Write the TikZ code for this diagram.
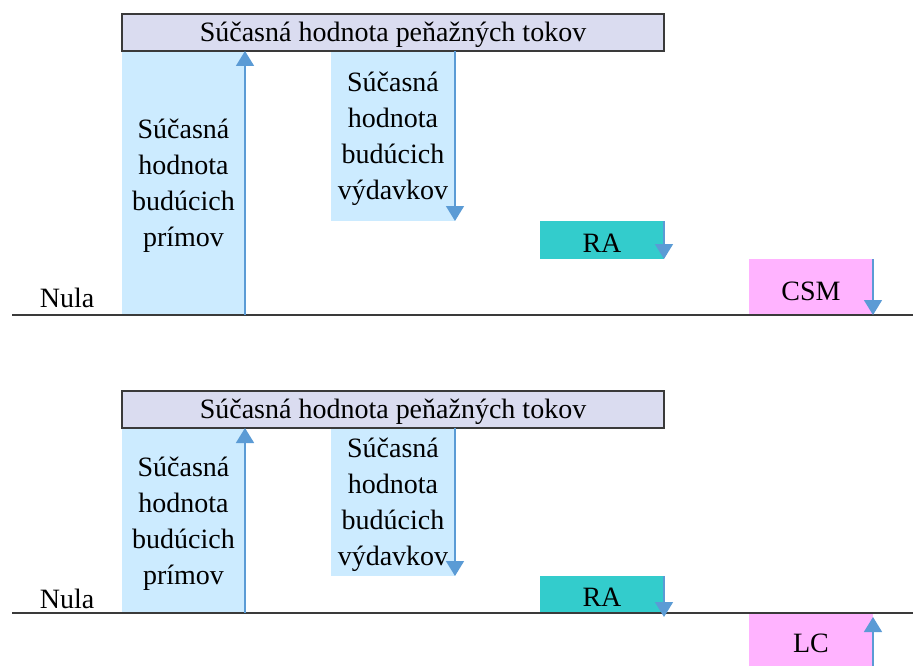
\documentclass[tikz,border=0pt]{standalone}
\usepackage{fontspec}
\setmainfont{Liberation Serif}
\usetikzlibrary{arrows.meta}
\definecolor{boxfill}{HTML}{DADCF0}
\definecolor{lblue}{HTML}{CCEBFF}
\definecolor{tealfill}{HTML}{33CCCC}
\definecolor{pinkfill}{HTML}{FFB3FF}
\definecolor{arr}{HTML}{5B9BD5}
\definecolor{edge}{HTML}{3A3A3A}
\begin{document}
\begin{tikzpicture}[x=1pt,y=-1pt,
  every node/.style={font=\fontsize{28}{36}\selectfont, inner sep=0pt, outer sep=0pt, text=black},
  hdr/.style={draw=edge, line width=1.3pt, fill=boxfill, anchor=north west, minimum width=542pt, minimum height=37pt},
  pv/.style={fill=lblue, anchor=north west, minimum width=123pt},
  rabox/.style={fill=tealfill, anchor=north west, minimum width=124pt},
  pinkbox/.style={fill=pinkfill, anchor=north west, minimum width=124pt},
  lbl/.style={align=center},
  flow/.style={draw=arr, line width=1.5pt, -{Triangle[width=18pt,length=15pt]}},
  baseline/.style={draw=edge, line width=1.6pt}]
\useasboundingbox (0,0) rectangle (913,666);
% ---------- top diagram ----------
\node[pv, minimum height=264pt] (p1) at (122,51) {};
\node[pv, minimum width=124pt, minimum height=170pt] (v1) at (331,51) {};
\node[rabox, minimum height=38pt] (r1) at (540,221) {};
\node[pinkbox, minimum height=56pt] (c1) at (749,259) {};
\node[hdr] (h1) at (122,14) {};
\node[lbl] (p1t) at ([yshift=-3pt]p1.center) {Súčasná\\hodnota\\budúcich\\prímov};
\node[lbl] (v1t) at ([yshift=-3pt]v1.center) {Súčasná\\hodnota\\budúcich\\výdavkov};
\node (r1t) at ([yshift=-3pt]r1.center) {RA};
\node (c1t) at ([yshift=-4pt]c1.center) {CSM};
\node (h1t) at ([yshift=-2pt]h1.center) {Súčasná hodnota peňažných tokov};
\node (n1) at (67,298) {Nula};
\coordinate (l1a) at (12,315);
\coordinate (l1b) at (913,315);
\draw[baseline] (l1a) -- (l1b);
\draw[flow] (p1.south east) -- (p1.north east);
\draw[flow] (v1.north east) -- (v1.south east);
\draw[flow] (r1.north east) -- (r1.south east);
\draw[flow] (c1.north east) -- (c1.south east);
% ---------- bottom diagram ----------
\node[pv, minimum height=185pt] (p2) at (122,428) {};
\node[pv, minimum width=124pt, minimum height=148pt] (v2) at (331,428) {};
\node[rabox, minimum height=37pt] (r2) at (540,576) {};
\node[pinkbox, minimum height=53pt] (c2) at (749,613) {};
\node[hdr] (h2) at (122,391) {};
\node[lbl] (p2t) at ([yshift=-3pt]p2.center) {Súčasná\\hodnota\\budúcich\\prímov};
\node[lbl] (v2t) at ([yshift=-3pt]v2.center) {Súčasná\\hodnota\\budúcich\\výdavkov};
\node (r2t) at ([yshift=-3pt]r2.center) {RA};
\node (c2t) at ([yshift=-4pt]c2.center) {LC};
\node (h2t) at ([yshift=-2pt]h2.center) {Súčasná hodnota peňažných tokov};
\node (n2) at (67,599) {Nula};
\coordinate (l2a) at (12,613);
\coordinate (l2b) at (913,613);
\draw[baseline] (l2a) -- (l2b);
\draw[flow] (p2.south east) -- (p2.north east);
\draw[flow] (v2.north east) -- (v2.south east);
\draw[flow] (r2.north east) -- ([yshift=-4pt]r2.south east);
\draw[flow] (c2.south east) -- ([yshift=-4pt]c2.north east);
\end{tikzpicture}
\end{document}
